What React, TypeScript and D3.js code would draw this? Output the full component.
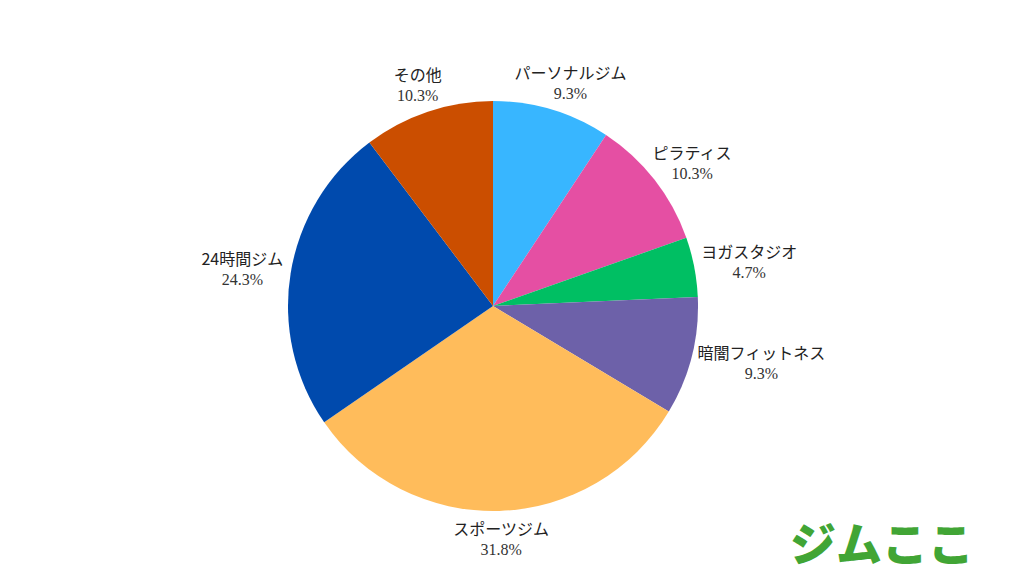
import { useEffect, useRef } from "react"
import * as d3 from "d3"

const categories = ["パーソナルジム", "ピラティス", "ヨガスタジオ", "暗闇フィットネス", "スポーツジム", "24時間ジム", "その他"]
const shares = [9.3, 10.3, 4.7, 9.3, 31.8, 24.3, 10.3]
const colors = ["#38b6ff", "#e54fa3", "#00bf63", "#6d61a9", "#ffbc5b", "#004aad", "#cb4e00"]
const brand = "ジムここ"

const W = 1024
const H = 576

export default function App() {
  const svgRef = useRef<SVGSVGElement>(null)

  useEffect(() => {
    const svg = d3.select(svgRef.current)
    svg.selectAll("*").remove()

    const cx = 493
    const cy = 306
    const radius = 205

    const data = categories.map((name, i) => ({ name, value: shares[i], color: colors[i] }))
    type D = (typeof data)[number]

    const pie = d3.pie<D>().value((d) => d.value).sort(null)
    const arc = d3.arc<d3.PieArcDatum<D>>().innerRadius(0).outerRadius(radius)
    const arcs = pie(data)

    const g = svg.append("g").attr("transform", `translate(${cx},${cy})`)

    g.selectAll("path.slice")
      .data(arcs)
      .join("path")
      .attr("class", "slice")
      .attr("fill", (d) => d.data.color)
      .attr("d", arc)

    // Labels sit just outside the rim, pushed out by half their box
    const labelR = radius + 8
    const boxH = 40
    const nameFont = "'Noto Sans CJK JP', 'Noto Sans', sans-serif"

    arcs.forEach((a) => {
      const mid = (a.startAngle + a.endAngle) / 2
      const s = Math.sin(mid)
      const c = -Math.cos(mid)
      const lg = g.append("g")
      const name = lg
        .append("text")
        .attr("text-anchor", "middle")
        .attr("y", -4)
        .attr("font-family", nameFont)
        .attr("font-size", 16)
        .attr("fill", "#222")
        .text(a.data.name)
      lg.append("text")
        .attr("text-anchor", "middle")
        .attr("y", 16)
        .attr("font-family", "'Liberation Serif', 'DejaVu Serif', serif")
        .attr("font-size", 16)
        .attr("fill", "#333")
        .text(`${a.data.value.toFixed(1)}%`)
      const w = (name.node() as SVGTextElement).getComputedTextLength()
      const x = labelR * s + (s * w) / 2
      const y = labelR * c + (c * boxH) / 2
      lg.attr("transform", `translate(${x},${y})`)
    })

    svg
      .append("text")
      .attr("x", 974)
      .attr("y", 561)
      .attr("text-anchor", "end")
      .attr("font-family", "'Noto Sans CJK JP', sans-serif")
      .attr("font-weight", 900)
      .attr("font-size", 46)
      .attr("fill", "#41a535")
      .text(brand)
  }, [])

  return (
    <svg
      ref={svgRef}
      width={W}
      height={H}
      style={{ position: "absolute", left: 0, top: 0, background: "#fff" }}
    />
  )
}
